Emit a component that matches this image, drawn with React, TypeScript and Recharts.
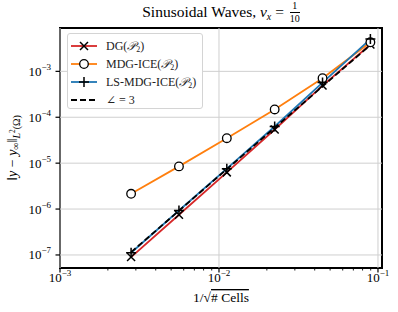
import React from 'react';
import { LineChart, Line, XAxis, YAxis, ReferenceLine, ReferenceArea, Legend } from 'recharts';

// 1/sqrt(# cells) for each mesh
const cellSizes = [0.0028, 0.0056, 0.0112, 0.0224, 0.0448, 0.0896];
// L2 errors
const dgErrors = [9.0e-8, 7.5e-7, 6.3e-6, 5.4e-5, 4.9e-4, 3.85e-3];
const mdgIceErrors = [2.15e-6, 8.5e-6, 3.5e-5, 1.48e-4, 7.1e-4, 4.3e-3];
const lsMdgIceErrors = [1.12e-7, 9.3e-7, 7.6e-6, 6.3e-5, 5.7e-4, 5.05e-3];
const slopeThreeRef = [1.15e-7, 9.2e-7, 7.4e-6, 5.9e-5, 4.7e-4, 3.75e-3];

const xMajorTicks = [1e-3, 1e-2, 1e-1];
const xMinorTicks = [
    2e-3, 3e-3, 4e-3, 5e-3, 6e-3, 7e-3, 8e-3, 9e-3,
    2e-2, 3e-2, 4e-2, 5e-2, 6e-2, 7e-2, 8e-2, 9e-2,
];
const yMajorTicks = [1e-7, 1e-6, 1e-5, 1e-4, 1e-3];
const xDomain = [1e-3, 0.106];
const yDomain = [5.2e-8, 8.8e-3];

const data = cellSizes.map((h, i) => ({
    h,
    dg: dgErrors[i],
    mdg: mdgIceErrors[i],
    ls: lsMdgIceErrors[i],
    ref: slopeThreeRef[i],
}));

const FONT = "'Liberation Serif', 'DejaVu Serif', serif";
const RED = '#d62728';
const ORANGE = '#ff7f0e';
const BLUE = '#1f77b4';

const expLabel = (v: number) => {
    const e = Math.round(Math.log10(v));
    return (e < 0 ? '\u2212' : '') + Math.abs(e);
};

const XTick = (props: any) => {
    const { x, y, payload } = props;
    const major = xMajorTicks.includes(payload.value);
    return (
        <g>
            <line x1={x} x2={x} y1={y} y2={y + (major ? 4.5 : 2.5)} stroke="#000" strokeWidth={major ? 1.2 : 0.9} />
            {major && (
                <text x={x} y={y + 14} textAnchor="middle" fontFamily={FONT} fontSize={13} fill="#000">
                    <tspan>10</tspan>
                    <tspan dy={-6} fontSize={9}>{expLabel(payload.value)}</tspan>
                </text>
            )}
        </g>
    );
};

const YTick = (props: any) => {
    const { x, y, payload } = props;
    return (
        <g>
            <line x1={x - 4.5} x2={x} y1={y} y2={y} stroke="#000" strokeWidth={1.2} />
            <text x={x - 9} y={y + 4.5} textAnchor="end" fontFamily={FONT} fontSize={13} fill="#000">
                <tspan>10</tspan>
                <tspan dy={-6} fontSize={9}>{expLabel(payload.value)}</tspan>
            </text>
        </g>
    );
};

const Cross = ({ cx, cy, size = 4 }: any) => (
    <path d={`M${cx - size},${cy - size}L${cx + size},${cy + size}M${cx - size},${cy + size}L${cx + size},${cy - size}`} stroke="#000" strokeWidth={1.5} fill="none" />
);
const Ring = ({ cx, cy }: any) => <circle cx={cx} cy={cy} r={4.3} fill="#fff" stroke="#000" strokeWidth={1.3} />;
const Plus = ({ cx, cy }: any) => (
    <path d={`M${cx - 5},${cy}L${cx + 5},${cy}M${cx},${cy - 5}L${cx},${cy + 5}`} stroke="#000" strokeWidth={1.5} fill="none" />
);

const P2 = () => (
    <span>
        (<span style={{ fontStyle: 'italic' }}>{'\u{1D4AB}'}</span>
        <sub style={{ fontSize: 8, verticalAlign: -2 }}>2</sub>)
    </span>
);

const legendItems = [
    { key: 'dg', label: <>DG<P2 /></>, color: RED, marker: 'x', dash: undefined },
    { key: 'mdg', label: <>MDG-ICE<P2 /></>, color: ORANGE, marker: 'o', dash: undefined },
    { key: 'ls', label: <>LS-MDG-ICE<P2 /></>, color: BLUE, marker: '+', dash: undefined },
    { key: 'ref', label: <><span>{'\u2220'}</span> = 3</>, color: '#000', marker: '', dash: '6 3' },
];

const LegendBox = () => (
    <div style={{
        width: 136, height: 76, boxSizing: 'border-box', background: '#fff',
        border: '1px solid #d4d4d4', borderRadius: 3, padding: '3px 0 0 2px',
        fontFamily: FONT, fontSize: 12, color: '#222',
    }}>
        {legendItems.map((it) => (
            <div key={it.key} style={{ display: 'flex', alignItems: 'center', height: 18 }}>
                <svg width={30} height={14} style={{ marginRight: 6 }}>
                    <line x1={1} x2={27} y1={7} y2={7} stroke={it.color} strokeWidth={1.8} strokeDasharray={it.dash} />
                    {it.marker === 'x' && <Cross cx={14} cy={7} />}
                    {it.marker === 'o' && <Ring cx={14} cy={7} />}
                    {it.marker === '+' && <Plus cx={14} cy={7} />}
                </svg>
                <span style={{ whiteSpace: 'nowrap' }}>{it.label}</span>
            </div>
        ))}
    </div>
);

const YLabel = (props: any) => {
    const vb = props.viewBox || { x: 0, y: 28, width: 60, height: 240 };
    const cx = vb.x + 12;
    const cy = vb.y + vb.height / 2;
    return (
        <text x={cx} y={cy} transform={`rotate(-90, ${cx}, ${cy})`} textAnchor="middle" dominantBaseline="central" fontFamily={FONT} fontSize={14} fill="#000">
            <tspan>{'\u2016'}</tspan>
            <tspan fontStyle="italic">y</tspan>
            <tspan> {'\u2212'} </tspan>
            <tspan fontStyle="italic">y</tspan>
            <tspan fontSize={10} dy={3}>{'\u221E'}</tspan>
            <tspan dy={-3}>{'\u2016'}</tspan>
            <tspan fontSize={10} dy={4} fontStyle="italic">L</tspan>
            <tspan fontSize={7.5} dy={-4}>2</tspan>
            <tspan fontSize={10} dy={4}>({'\u03A9'})</tspan>
        </text>
    );
};

const XLabel = (props: any) => {
    const vb = props.viewBox || { x: 60, y: 268, width: 322, height: 44 };
    const cx = vb.x + vb.width / 2;
    return (
        <text x={cx} y={vb.y + 34} textAnchor="middle" fontFamily={FONT} fontSize={13.5} fill="#000">
            <tspan>1/{'\u221A'}</tspan>
            <tspan style={{ textDecoration: 'overline' }}># Cells</tspan>
        </text>
    );
};

export default function App() {
    return (
        <div style={{ position: 'absolute', left: 0, top: 0, width: 398, height: 312, background: '#fff' }}>
            <div style={{
                position: 'absolute', top: 0, left: 0, width: 442, display: 'flex',
                justifyContent: 'center', alignItems: 'flex-start',
                fontFamily: FONT, fontSize: 15.5, color: '#000',
            }}>
                <span style={{ lineHeight: '20px', marginTop: 2, whiteSpace: 'pre' }}>
                    Sinusoidal Waves, <i>v</i><sub style={{ fontSize: 10, verticalAlign: -3 }}><i>x</i></sub> ={' '}
                </span>
                <span style={{ display: 'flex', flexDirection: 'column', fontSize: 10, lineHeight: '10px', textAlign: 'center', marginTop: 1, marginLeft: 2 }}>
                    <span style={{ borderBottom: '0.8px solid #000', padding: '0 1px 1px' }}>1</span>
                    <span style={{ paddingTop: 1 }}>10</span>
                </span>
            </div>
            <LineChart width={398} height={312} data={data} margin={{ top: 28, right: 16, left: 0, bottom: 0 }}>
                {xMajorTicks.map((v) => (
                    <ReferenceLine key={`gx${v}`} x={v} stroke="#cfcfcf" strokeWidth={1} />
                ))}
                {yMajorTicks.map((v) => (
                    <ReferenceLine key={`gy${v}`} y={v} stroke="#cfcfcf" strokeWidth={1} />
                ))}
                <XAxis
                    dataKey="h"
                    type="number"
                    scale="log"
                    domain={xDomain}
                    allowDataOverflow
                    ticks={[...xMajorTicks, ...xMinorTicks].sort((a, b) => a - b)}
                    interval={0}
                    tick={<XTick />}
                    tickSize={0}
                    tickMargin={0}
                    tickLine={false}
                    axisLine={false}
                    height={44}
                    label={{ content: <XLabel /> }}
                />
                <YAxis
                    type="number"
                    scale="log"
                    domain={yDomain}
                    allowDataOverflow
                    ticks={yMajorTicks}
                    interval={0}
                    tick={<YTick />}
                    tickSize={0}
                    tickMargin={0}
                    tickLine={false}
                    axisLine={false}
                    width={60}
                    label={{ content: <YLabel /> }}
                />
                <Line dataKey="dg" stroke={RED} strokeWidth={1.8} isAnimationActive={false}
                    dot={(p: any) => <Cross key={`dg${p.index}`} cx={p.cx} cy={p.cy} />} activeDot={false} />
                <Line dataKey="mdg" stroke={ORANGE} strokeWidth={1.8} isAnimationActive={false}
                    dot={(p: any) => <Ring key={`mdg${p.index}`} cx={p.cx} cy={p.cy} />} activeDot={false} />
                <Line dataKey="ls" stroke={BLUE} strokeWidth={1.8} isAnimationActive={false}
                    dot={(p: any) => <Plus key={`ls${p.index}`} cx={p.cx} cy={p.cy} />} activeDot={false} />
                <Line dataKey="ref" stroke="#000" strokeWidth={1.8} strokeDasharray="6 3" isAnimationActive={false}
                    dot={false} activeDot={false} />
                <ReferenceArea x1={xDomain[0]} x2={xDomain[1]} y1={yDomain[0]} y2={yDomain[1]}
                    fill="none" stroke="#000" strokeWidth={2} ifOverflow="visible" />
                <Legend
                    layout="vertical"
                    align="center"
                    verticalAlign="middle"
                    content={<LegendBox />}
                    wrapperStyle={{ left: 67, top: 33, width: 136, height: 76 }}
                />
            </LineChart>
        </div>
    );
}
